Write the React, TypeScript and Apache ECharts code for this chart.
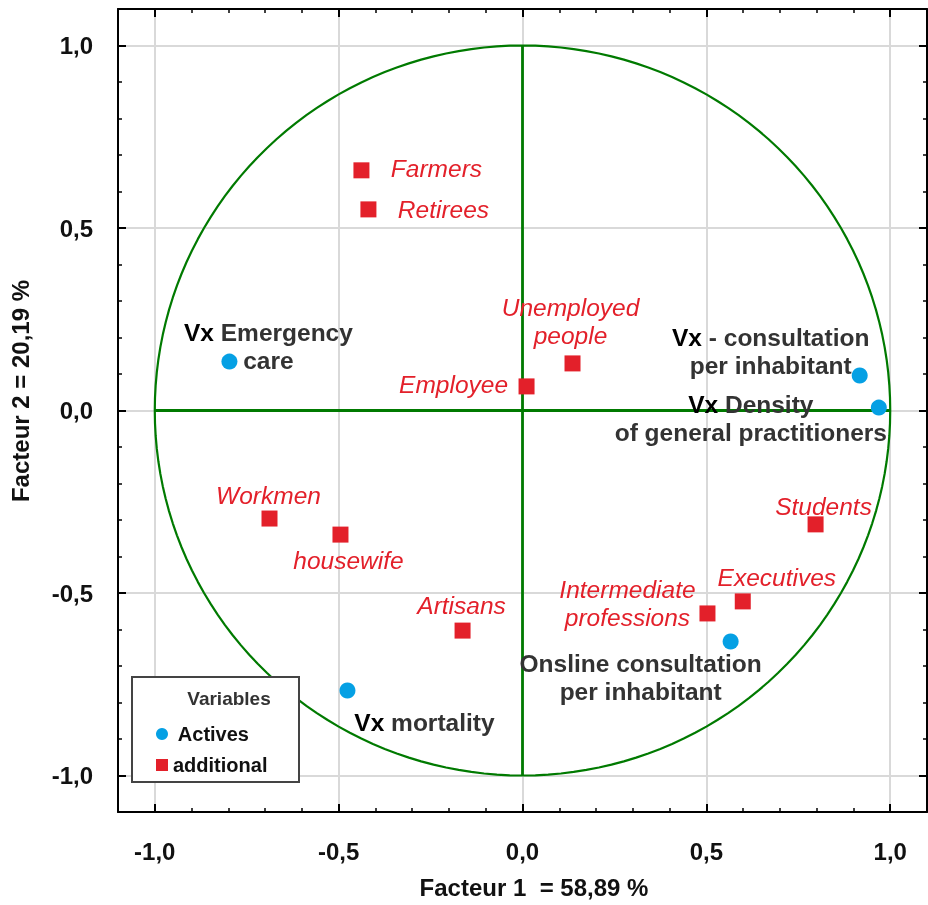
import React, { useEffect, useRef } from 'react';
import * as echarts from 'echarts';

// ---- Data ----
const activeNames = [
  'Vx Emergency care',
  'Vx - consultation per inhabitant',
  'Vx Density of general practitioners',
  'Onsline consultation per inhabitant',
  'Vx mortality',
];
const activeF1 = [-0.797, 0.917, 0.969, 0.566, -0.476];
const activeF2 = [0.134, 0.096, 0.008, -0.633, -0.767];
const activeLabels = [
  '{vx|Vx} Emergency\ncare',
  '{vx|Vx} - consultation\nper inhabitant',
  '{vx|Vx} Density\nof general practitioners',
  'Onsline consultation\nper inhabitant',
  '{vx|Vx} mortality',
];

const addNames = [
  'Farmers', 'Retirees', 'Unemployed people', 'Employee', 'Workmen',
  'housewife', 'Artisans', 'Intermediate professions', 'Executives', 'Students',
];
const addF1 = [-0.438, -0.419, 0.136, 0.011, -0.688, -0.495, -0.163, 0.503, 0.599, 0.797];
const addF2 = [0.658, 0.551, 0.129, 0.066, -0.296, -0.34, -0.603, -0.556, -0.523, -0.312];
const addLabels = [
  'Farmers', 'Retirees', 'Unemployed\npeople', 'Employee', 'Workmen',
  'housewife', 'Artisans', 'Intermediate\nprofessions', 'Executives', 'Students',
];

const majorTicks = [-1, -0.5, 0, 0.5, 1];
const axisMin = -1.1;
const axisMax = 1.1;
const minorStep = 0.1;

// ---- Layout / style (kept apart from data) ----
const activeLabelOffsets = [[39, -15], [-89, -24], [-128, 11], [-90, 36], [77, 32]];
const addLabelOffsets = [[75, -2], [75, 0], [-2, -42], [-73, -2], [-1, -23], [8, 26], [-1, -25], [-80, -10], [34, -24], [8, -18]];

const FONT = '"Liberation Sans", Arial, Helvetica, sans-serif';
const GREEN = '#007a00';
const BLUE = '#05a0e4';
const RED = '#e3202a';
const LABEL_SIZE = 24.5;

function fmt(v: number) {
  return (Math.abs(v) < 1e-9 ? 0 : v).toFixed(1).replace('.', ',');
}

export default function App() {
  const ref = useRef<HTMLDivElement>(null);

  useEffect(() => {
    if (!ref.current) return;
    const chart = echarts.init(ref.current, undefined, { renderer: 'svg' });

    const circle: number[][] = [];
    for (let a = 0; a <= 360; a += 2) {
      const r = (a * Math.PI) / 180;
      circle.push([Math.cos(r), Math.sin(r)]);
    }

    const minorAxis = (position: string) => ({
      type: 'value',
      position,
      min: axisMin,
      max: axisMax,
      interval: minorStep,
      z: 20,
      axisLine: { show: true, onZero: false, lineStyle: { color: '#000', width: 2 } },
      axisTick: { show: true, inside: true, length: 4, lineStyle: { color: '#000', width: 1.5 } },
      axisLabel: { show: false },
      splitLine: { show: false },
    });
    const majorAxis = (position: string, labels: boolean, margin: number) => ({
      type: 'value',
      position,
      min: axisMin,
      max: axisMax,
      z: 20,
      axisLine: { show: false, onZero: false },
      axisTick: { show: true, inside: true, length: 8, customValues: majorTicks, lineStyle: { color: '#000', width: 2 } },
      axisLabel: {
        show: labels,
        customValues: majorTicks,
        formatter: (v: number) => fmt(v),
        margin,
        fontFamily: FONT,
        fontWeight: 'bold',
        fontSize: 24,
        color: '#111',
      },
      splitLine: { show: false },
    });

    const activeData = activeF1.map((x, i) => ({
      name: activeNames[i],
      value: [x, activeF2[i]],
      label: {
        formatter: activeLabels[i],
        offset: activeLabelOffsets[i],
      },
    }));
    const addData = addF1.map((x, i) => ({
      name: addNames[i],
      value: [x, addF2[i]],
      label: {
        formatter: addLabels[i],
        offset: addLabelOffsets[i],
      },
    }));

    chart.setOption({
      animation: false,
      grid: { left: 118, right: 1, top: 9, bottom: 93, containLabel: false },
      xAxis: [
        minorAxis('bottom'),
        majorAxis('bottom', true, 27),
        minorAxis('top'),
        majorAxis('top', false, 8),
      ],
      yAxis: [
        minorAxis('left'),
        majorAxis('left', true, 25),
        minorAxis('right'),
        majorAxis('right', false, 8),
      ],
      legend: {
        orient: 'vertical',
        left: 151,
        top: 719,
        itemWidth: 12,
        itemHeight: 12,
        itemGap: 11,
        selectedMode: false,
        z: 110,
        data: ['Actives', 'additional'],
        formatter: (n: string) => (n === 'Actives' ? ' ' + n : n),
        textStyle: { fontFamily: FONT, fontWeight: 'bold', fontSize: 20, color: '#111' },
      },
      graphic: [
        {
          type: 'rect',
          z: 100,
          shape: { x: 132, y: 677, width: 167, height: 105 },
          style: { fill: '#fff', stroke: '#444', lineWidth: 2 },
        },
        {
          type: 'text',
          z: 101,
          x: 229,
          y: 698,
          style: {
            text: 'Variables',
            fontFamily: FONT,
            fontWeight: 'bold',
            fontSize: 19,
            fill: '#333',
            align: 'center',
            verticalAlign: 'middle',
          },
        },
        {
          type: 'text',
          x: 534,
          y: 887,
          style: {
            text: 'Facteur 1  = 58,89 %',
            fontFamily: FONT,
            fontWeight: 'bold',
            fontSize: 24,
            fill: '#111',
            align: 'center',
            verticalAlign: 'middle',
          },
        },
        {
          type: 'text',
          x: 20,
          y: 391,
          rotation: Math.PI / 2,
          style: {
            text: 'Facteur 2 = 20,19 %',
            fontFamily: FONT,
            fontWeight: 'bold',
            fontSize: 24,
            fill: '#111',
            align: 'center',
            verticalAlign: 'middle',
          },
        },
      ],
      series: [
        {
          type: 'line',
          name: 'grid',
          data: [],
          silent: true,
          z: 1,
          markLine: {
            silent: true,
            z: 1,
            symbol: 'none',
            label: { show: false },
            lineStyle: { color: '#d9d9d9', width: 2, type: 'solid' },
            emphasis: { disabled: true },
            data: [
              ...majorTicks.map((v) => ({ xAxis: v })),
              ...majorTicks.map((v) => ({ yAxis: v })),
            ],
          },
        },
        {
          type: 'line',
          name: 'circle',
          data: circle,
          showSymbol: false,
          silent: true,
          z: 3,
          lineStyle: { color: GREEN, width: 2.2 },
        },
        {
          type: 'line',
          name: 'hline',
          data: [[-1, 0], [1, 0]],
          showSymbol: false,
          silent: true,
          z: 3,
          lineStyle: { color: GREEN, width: 2.8 },
        },
        {
          type: 'line',
          name: 'vline',
          data: [[0, -1], [0, 1]],
          showSymbol: false,
          silent: true,
          z: 3,
          lineStyle: { color: GREEN, width: 2.8 },
        },
        {
          type: 'scatter',
          name: 'additional',
          symbol: 'rect',
          symbolSize: 16,
          z: 5,
          itemStyle: { color: RED, opacity: 1 },
          label: {
            show: true,
            position: 'inside',
            fontFamily: FONT,
            fontStyle: 'italic',
            fontSize: LABEL_SIZE,
            lineHeight: 28,
            color: RED,
          },
          data: addData,
        },
        {
          type: 'scatter',
          name: 'Actives',
          symbol: 'circle',
          symbolSize: 16,
          z: 5,
          itemStyle: { color: BLUE, opacity: 1 },
          label: {
            show: true,
            position: 'inside',
            fontFamily: FONT,
            fontWeight: 'bold',
            fontSize: LABEL_SIZE,
            lineHeight: 28,
            color: '#333',
            rich: {
              vx: { fontFamily: FONT, fontWeight: 'bold', fontSize: LABEL_SIZE, lineHeight: 28, color: '#000' },
            },
          },
          data: activeData,
        },
      ],
    });

    return () => chart.dispose();
  }, []);

  return <div ref={ref} style={{ position: 'fixed', left: 0, top: 0, width: 928, height: 905 }} />;
}
